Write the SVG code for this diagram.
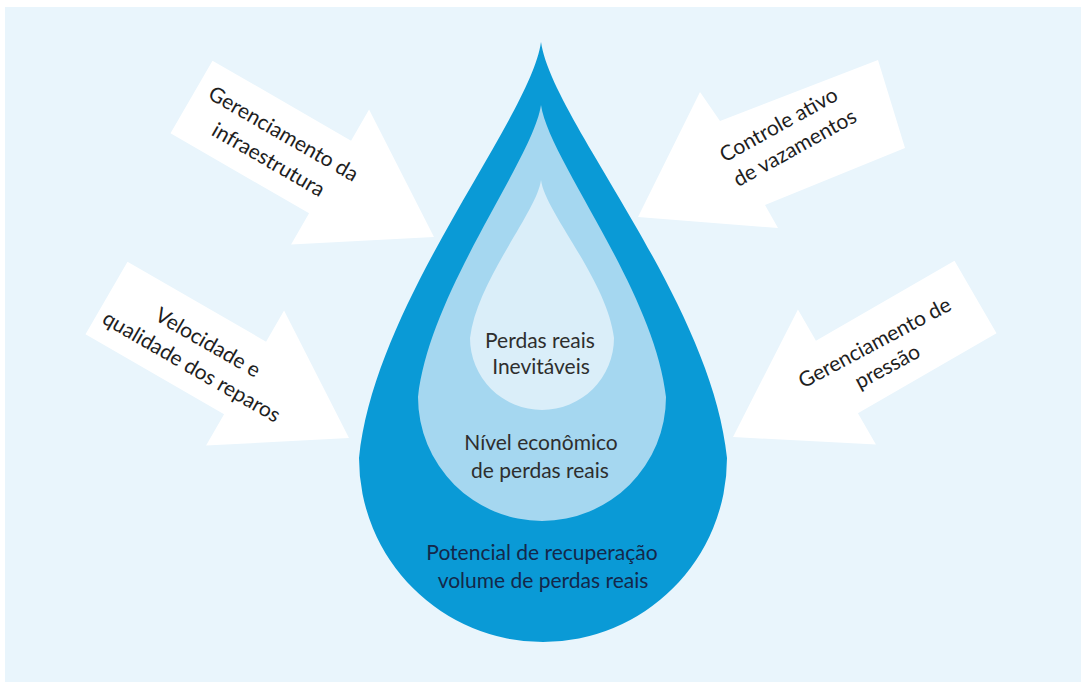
<svg xmlns="http://www.w3.org/2000/svg" width="1081" height="682" viewBox="0 0 1081 682">
<style>
.bg{fill:#E9F5FC}
.arrow{fill:#FFFFFF}
.lbl{font-family:Lato,"Open Sans","Liberation Sans",sans-serif;font-size:21px;fill:#1E1E1E}
.in{font-family:Lato,"Open Sans","Liberation Sans",sans-serif;font-size:21px;fill:#2E2E2E;text-anchor:middle}
.out{font-family:Lato,"Open Sans","Liberation Sans",sans-serif;font-size:21px;fill:#14284A;text-anchor:middle}
</style>
<defs>
<path id="arrowShape" d="M0,-42 L160,-42 L160,-78 L280,0 L160,78 L160,42 L0,42 Z"/>
</defs>
<rect class="bg" x="5" y="7" width="1076" height="675"/>
<g id="drop">
<g id="drop-outer">
<path fill="#0A9AD6" d="M541,42 C530,120 375,300 359,458 A184,184 0 0 0 727,458 C711,300 552,120 541,42 Z"/>
</g>
<g id="drop-middle">
<path fill="#A5D7F0" d="M541,105 C533,160 430,290 418,397 A124,124 0 0 0 666,397 C654,290 549,160 541,105 Z"/>
</g>
<g id="drop-inner">
<path fill="#DAEEF9" d="M541,180 C537,212 477,280 470,338 A72,72 0 0 0 614,338 C607,280 545,212 541,180 Z"/>
</g>
</g>
<g id="connectors">
<g id="arrow-infra">
<use href="#arrowShape" class="arrow" transform="translate(191.5,97) rotate(30)"/>
<g transform="translate(191.5,97) rotate(30)">
<text class="lbl" text-anchor="middle" x="98" y="-7">Gerenciamento da</text>
<text class="lbl" text-anchor="middle" x="98" y="23">infraestrutura</text>
</g>
</g>
<g id="arrow-reparos">
<use href="#arrowShape" class="arrow" transform="translate(106.5,298) rotate(30)"/>
<g transform="translate(106.5,298) rotate(30)">
<text class="lbl" text-anchor="middle" x="110" y="-5">Velocidade e</text>
<text class="lbl" text-anchor="middle" x="108" y="24">qualidade dos reparos</text>
</g>
</g>
<g id="arrow-vazamentos">
<polygon class="arrow" points="638,217 700,92 720,121 878,60 905,148 765,205 778,228"/>
<g transform="translate(782,131) rotate(-29)">
<text class="lbl" text-anchor="middle" x="0" y="0">Controle ativo</text>
<text class="lbl" text-anchor="middle" x="3" y="28">de vazamentos</text>
</g>
</g>
<g id="arrow-pressao">
<use href="#arrowShape" class="arrow" transform="translate(975.5,297) rotate(150)"/>
<g transform="translate(878,349) rotate(-28)">
<text class="lbl" text-anchor="middle" x="0" y="0">Gerenciamento de</text>
<text class="lbl" text-anchor="middle" x="0" y="27">pressão</text>
</g>
</g>
</g>
<g id="labels">
<g id="label-inevitaveis">
<text class="in" x="540" y="348">Perdas reais</text>
<text class="in" x="541" y="374">Inevitáveis</text>
</g>
<g id="label-economico">
<text class="in" x="541" y="450">Nível econômico</text>
<text class="in" x="540" y="478">de perdas reais</text>
</g>
<g id="label-potencial">
<text class="out" x="542" y="560">Potencial de recuperação</text>
<text class="out" x="543" y="588">volume de perdas reais</text>
</g>
</g>
</svg>
